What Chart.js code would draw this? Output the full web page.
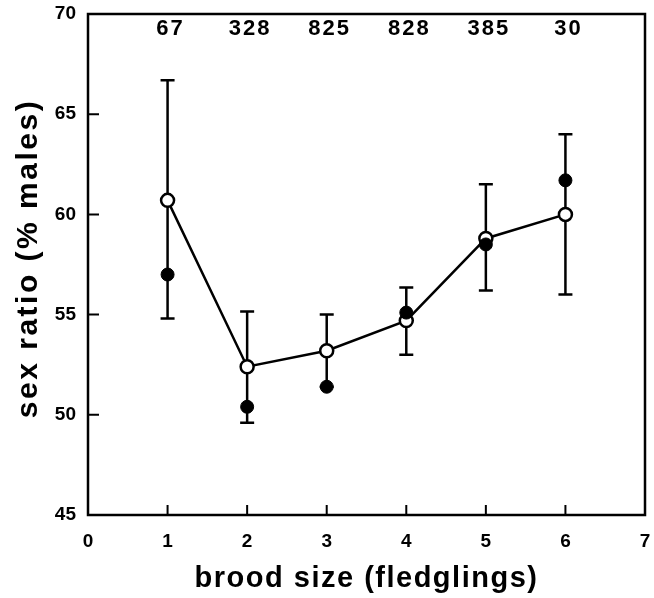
<!DOCTYPE html>
<html>
<head>
<meta charset="utf-8">
<script src="https://cdn.jsdelivr.net/npm/chart.js@4.4.0/dist/chart.umd.min.js"></script>
<style>
  html, body { margin: 0; padding: 0; background: #fff; }
  #wrap { width: 654px; height: 598px; }
</style>
</head>
<body>
<div id="wrap"><canvas id="chart" width="654" height="598"></canvas></div>
<script>
// data
const broodSizes = [1, 2, 3, 4, 5, 6];
const sampleSizes = [67, 328, 825, 828, 385, 30];
const openRatio = [60.7, 52.4, 53.2, 54.7, 58.8, 60.0];
const filledRatio = [57.0, 50.4, 51.4, 55.1, 58.5, 61.7];
const errLow = [54.8, 49.6, 51.4, 53.0, 56.2, 56.0];
const errHigh = [66.7, 55.15, 55.0, 56.35, 61.5, 64.0];
const xTicks = [0, 1, 2, 3, 4, 5, 6, 7];
const yTicks = [45, 50, 55, 60, 65, 70];
const xTitle = 'brood size (fledglings)';
const yTitle = 'sex ratio (% males)';

const FONT = '"Liberation Sans", Arial, Helvetica, sans-serif';

const toPoints = vals => broodSizes.map((x, i) => ({ x: x, y: vals[i] }));

// vertical error bars with caps
const errorBars = {
    id: 'errorBars',
    beforeDatasetsDraw(chart) {
        const ctx = chart.ctx;
        const xs = chart.scales.x, ys = chart.scales.y;
        ctx.save();
        ctx.strokeStyle = '#000';
        ctx.lineWidth = 2.5;
        broodSizes.forEach((b, i) => {
            const px = xs.getPixelForValue(b);
            const top = ys.getPixelForValue(errHigh[i]);
            const bot = ys.getPixelForValue(errLow[i]);
            ctx.beginPath();
            ctx.moveTo(px, top); ctx.lineTo(px, bot);
            ctx.moveTo(px - 7, top); ctx.lineTo(px + 7, top);
            ctx.moveTo(px - 7, bot); ctx.lineTo(px + 7, bot);
            ctx.stroke();
        });
        ctx.restore();
    }
};

// box frame, inward ticks, sample sizes and axis titles
const frame = {
    id: 'frame',
    afterDraw(chart) {
        const ctx = chart.ctx;
        const a = chart.chartArea;
        const xs = chart.scales.x, ys = chart.scales.y;
        ctx.save();
        ctx.strokeStyle = '#000';
        ctx.lineWidth = 2.5;
        ctx.strokeRect(a.left, a.top, a.right - a.left, a.bottom - a.top);
        ctx.lineWidth = 2;
        ctx.beginPath();
        xTicks.forEach(v => {
            const px = xs.getPixelForValue(v);
            ctx.moveTo(px, a.bottom); ctx.lineTo(px, a.bottom - 10);
        });
        yTicks.forEach(v => {
            const py = ys.getPixelForValue(v);
            ctx.moveTo(a.left, py); ctx.lineTo(a.left + 11, py);
        });
        ctx.stroke();

        ctx.fillStyle = '#000';
        ctx.textAlign = 'center';
        ctx.textBaseline = 'middle';
        ctx.font = 'bold 22px ' + FONT;
        ctx.letterSpacing = '2px';
        broodSizes.forEach((b, i) => {
            ctx.fillText(String(sampleSizes[i]), xs.getPixelForValue(b) + 3, 29);
        });

        ctx.font = 'bold 29px ' + FONT;
        ctx.letterSpacing = '1.5px';
        ctx.fillText(xTitle, (a.left + a.right) / 2, 579);

        ctx.font = 'bold 30px ' + FONT;
        ctx.letterSpacing = '2.5px';
        ctx.translate(29, (a.top + a.bottom) / 2 - 6);
        ctx.rotate(-Math.PI / 2);
        ctx.fillText(yTitle, 0, 0);
        ctx.restore();
    }
};

new Chart(document.getElementById('chart'), {
    type: 'scatter',
    data: {
        datasets: [
            {
                label: 'open',
                data: toPoints(openRatio),
                showLine: true,
                borderColor: '#000',
                borderWidth: 2.5,
                pointBackgroundColor: '#fff',
                pointBorderColor: '#000',
                pointBorderWidth: 2.5,
                pointRadius: 6.5,
                order: 2
            },
            {
                label: 'filled',
                data: toPoints(filledRatio),
                showLine: false,
                pointBackgroundColor: '#000',
                pointBorderColor: '#000',
                pointRadius: 6.5,
                order: 1
            }
        ]
    },
    options: {
        responsive: false,
        animation: false,
        layout: { padding: { top: 14, right: 7, left: 0, bottom: 0 } },
        plugins: {
            legend: { display: false },
            tooltip: { enabled: false }
        },
        scales: {
            x: {
                type: 'linear',
                min: 0,
                max: 7,
                afterBuildTicks: s => { s.ticks = xTicks.map(v => ({ value: v })); },
                afterFit: s => { s.height = 83; s.paddingLeft = 0; s.paddingRight = 0; },
                grid: { display: false, drawTicks: false },
                border: { display: false },
                ticks: {
                    color: '#000',
                    padding: 15,
                    font: { family: FONT, size: 19, weight: 'bold' }
                }
            },
            y: {
                min: 45,
                max: 70,
                afterBuildTicks: s => { s.ticks = yTicks.map(v => ({ value: v })); },
                afterFit: s => { s.width = 88; s.paddingTop = 0; s.paddingBottom = 0; },
                grid: { display: false, drawTicks: false },
                border: { display: false },
                ticks: {
                    color: '#000',
                    padding: 12,
                    font: { family: FONT, size: 19, weight: 'bold' }
                }
            }
        }
    },
    plugins: [errorBars, frame]
});
</script>
</body>
</html>
